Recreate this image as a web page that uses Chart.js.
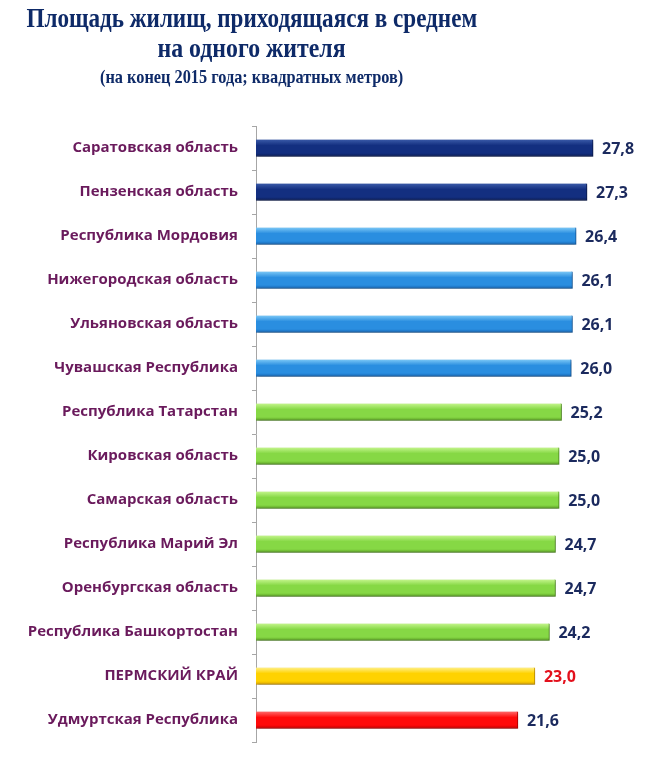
<!DOCTYPE html>
<html lang="ru">
<head>
<meta charset="utf-8">
<script src="https://cdn.jsdelivr.net/npm/chart.js@4/dist/chart.umd.min.js"></script>
<style>
    html, body { margin: 0; padding: 0; background: #fff; }
    #wrap { position: relative; width: 650px; height: 765px; overflow: hidden; }
    #title {
        position: absolute; left: 0; top: 3px; width: 503px;
        color: #0e2a68; z-index: 2;
        font-family: "Liberation Serif", "DejaVu Serif", serif; font-weight: bold;
    }
    #title div { white-space: nowrap; display: flex; justify-content: center; }
    #title span { display: inline-block; flex: none; transform-origin: center; }
    #title .main { font-size: 28px; line-height: 30px; }
    #title .sub { font-size: 19px; line-height: 24px; margin-top: 2px; }
    canvas { position: absolute; left: 0; top: 0; }
</style>
</head>
<body>
<div id="wrap">
    <canvas id="chart" width="650" height="765"></canvas>
    <div id="title">
        <div class="main"><span data-w="451">Площадь жилищ, приходящаяся в среднем</span></div>
        <div class="main"><span data-w="188">на одного жителя</span></div>
        <div class="sub"><span data-w="303">(на конец 2015 года; квадратных метров)</span></div>
    </div>
</div>
<script>
// данные
const regions = [
    'Саратовская область', 'Пензенская область', 'Республика Мордовия',
    'Нижегородская область', 'Ульяновская область', 'Чувашская Республика',
    'Республика Татарстан', 'Кировская область', 'Самарская область',
    'Республика Марий Эл', 'Оренбургская область', 'Республика Башкортостан',
    'ПЕРМСКИЙ КРАЙ', 'Удмуртская Республика'
];
const area = [27.8, 27.3, 26.4, 26.1, 26.1, 26.0, 25.2, 25.0, 25.0, 24.7, 24.7, 24.2, 23.0, 21.6];

// заголовок сжат по ширине как в оригинале
document.querySelectorAll('#title span').forEach(s => {
    const k = Number(s.dataset.w) / s.offsetWidth;
    s.style.transform = `scaleX(${k})`;
});

// цвета: [верх, середина, низ]
const navy = ['#3a5aa8', '#132f80', '#0a1c56'];
const blue = ['#7cc8f6', '#2a8ee0', '#1465b4'];
const green = ['#c4f58c', '#86d845', '#5a9f22'];
const yellow = ['#fff08a', '#ffd200', '#d9a200'];
const red = ['#ff6a6a', '#ff0a0a', '#c40000'];
const barColors = [navy, navy, blue, blue, blue, blue,
    green, green, green, green, green, green, yellow, red];

const BAR_H = 17;

function barGradient(context) {
    const chart = context.chart;
    const c = barColors[context.dataIndex];
    if (!chart.chartArea || !chart.scales.y) return c[1];
    const yc = chart.scales.y.getPixelForValue(context.dataIndex);
    const g = chart.ctx.createLinearGradient(0, yc - BAR_H / 2, 0, yc + BAR_H / 2);
    g.addColorStop(0, c[0]);
    g.addColorStop(0.35, c[1]);
    g.addColorStop(0.8, c[1]);
    g.addColorStop(1, c[2]);
    return g;
}

const shadowPlugin = {
    id: 'barShadow',
    beforeDatasetsDraw(chart) {
        const ctx = chart.ctx;
        ctx.save();
        ctx.shadowColor = 'rgba(0,0,0,0.3)';
        ctx.shadowBlur = 3;
        ctx.shadowOffsetX = 1;
        ctx.shadowOffsetY = 2;
    },
    afterDatasetsDraw(chart) {
        chart.ctx.restore();
    }
};

const valueLabels = {
    id: 'valueLabels',
    afterDatasetsDraw(chart) {
        const ctx = chart.ctx;
        const meta = chart.getDatasetMeta(0);
        ctx.save();
        ctx.font = 'bold 16px "Open Sans", sans-serif';
        ctx.textAlign = 'left';
        ctx.textBaseline = 'middle';
        meta.data.forEach((bar, i) => {
            ctx.fillStyle = i === 12 ? '#e3101c' : '#1b2a5e';
            ctx.fillText(area[i].toFixed(1).replace('.', ','), bar.x + 9, bar.y + 1);
        });
        ctx.restore();
    }
};

new Chart(document.getElementById('chart'), {
    type: 'bar',
    data: {
        labels: regions,
        datasets: [{
            data: area,
            backgroundColor: barGradient,
            borderColor: ctx => barColors[ctx.dataIndex][2],
            borderWidth: { top: 0, right: 1, bottom: 1, left: 0 },
            borderSkipped: 'start',
            barThickness: BAR_H
        }]
    },
    options: {
        indexAxis: 'y',
        responsive: false,
        animation: false,
        layout: { padding: { top: 126, bottom: 23, right: 6, left: 0 } },
        plugins: {
            legend: { display: false },
            title: { display: false },
            tooltip: { enabled: false }
        },
        scales: {
            x: { display: false, min: 0, max: 32 },
            y: {
                afterFit: axis => { axis.width = 256; },
                border: { display: true, color: '#a6a6a6', width: 1 },
                grid: { drawOnChartArea: false, drawTicks: true, tickLength: 4, color: '#a6a6a6', offset: true },
                ticks: {
                    color: '#6a1a5c',
                    padding: 14,
                    font: { family: '"Open Sans", sans-serif', weight: 'bold', size: 15 }
                }
            }
        }
    },
    plugins: [shadowPlugin, valueLabels]
});
</script>
</body>
</html>
